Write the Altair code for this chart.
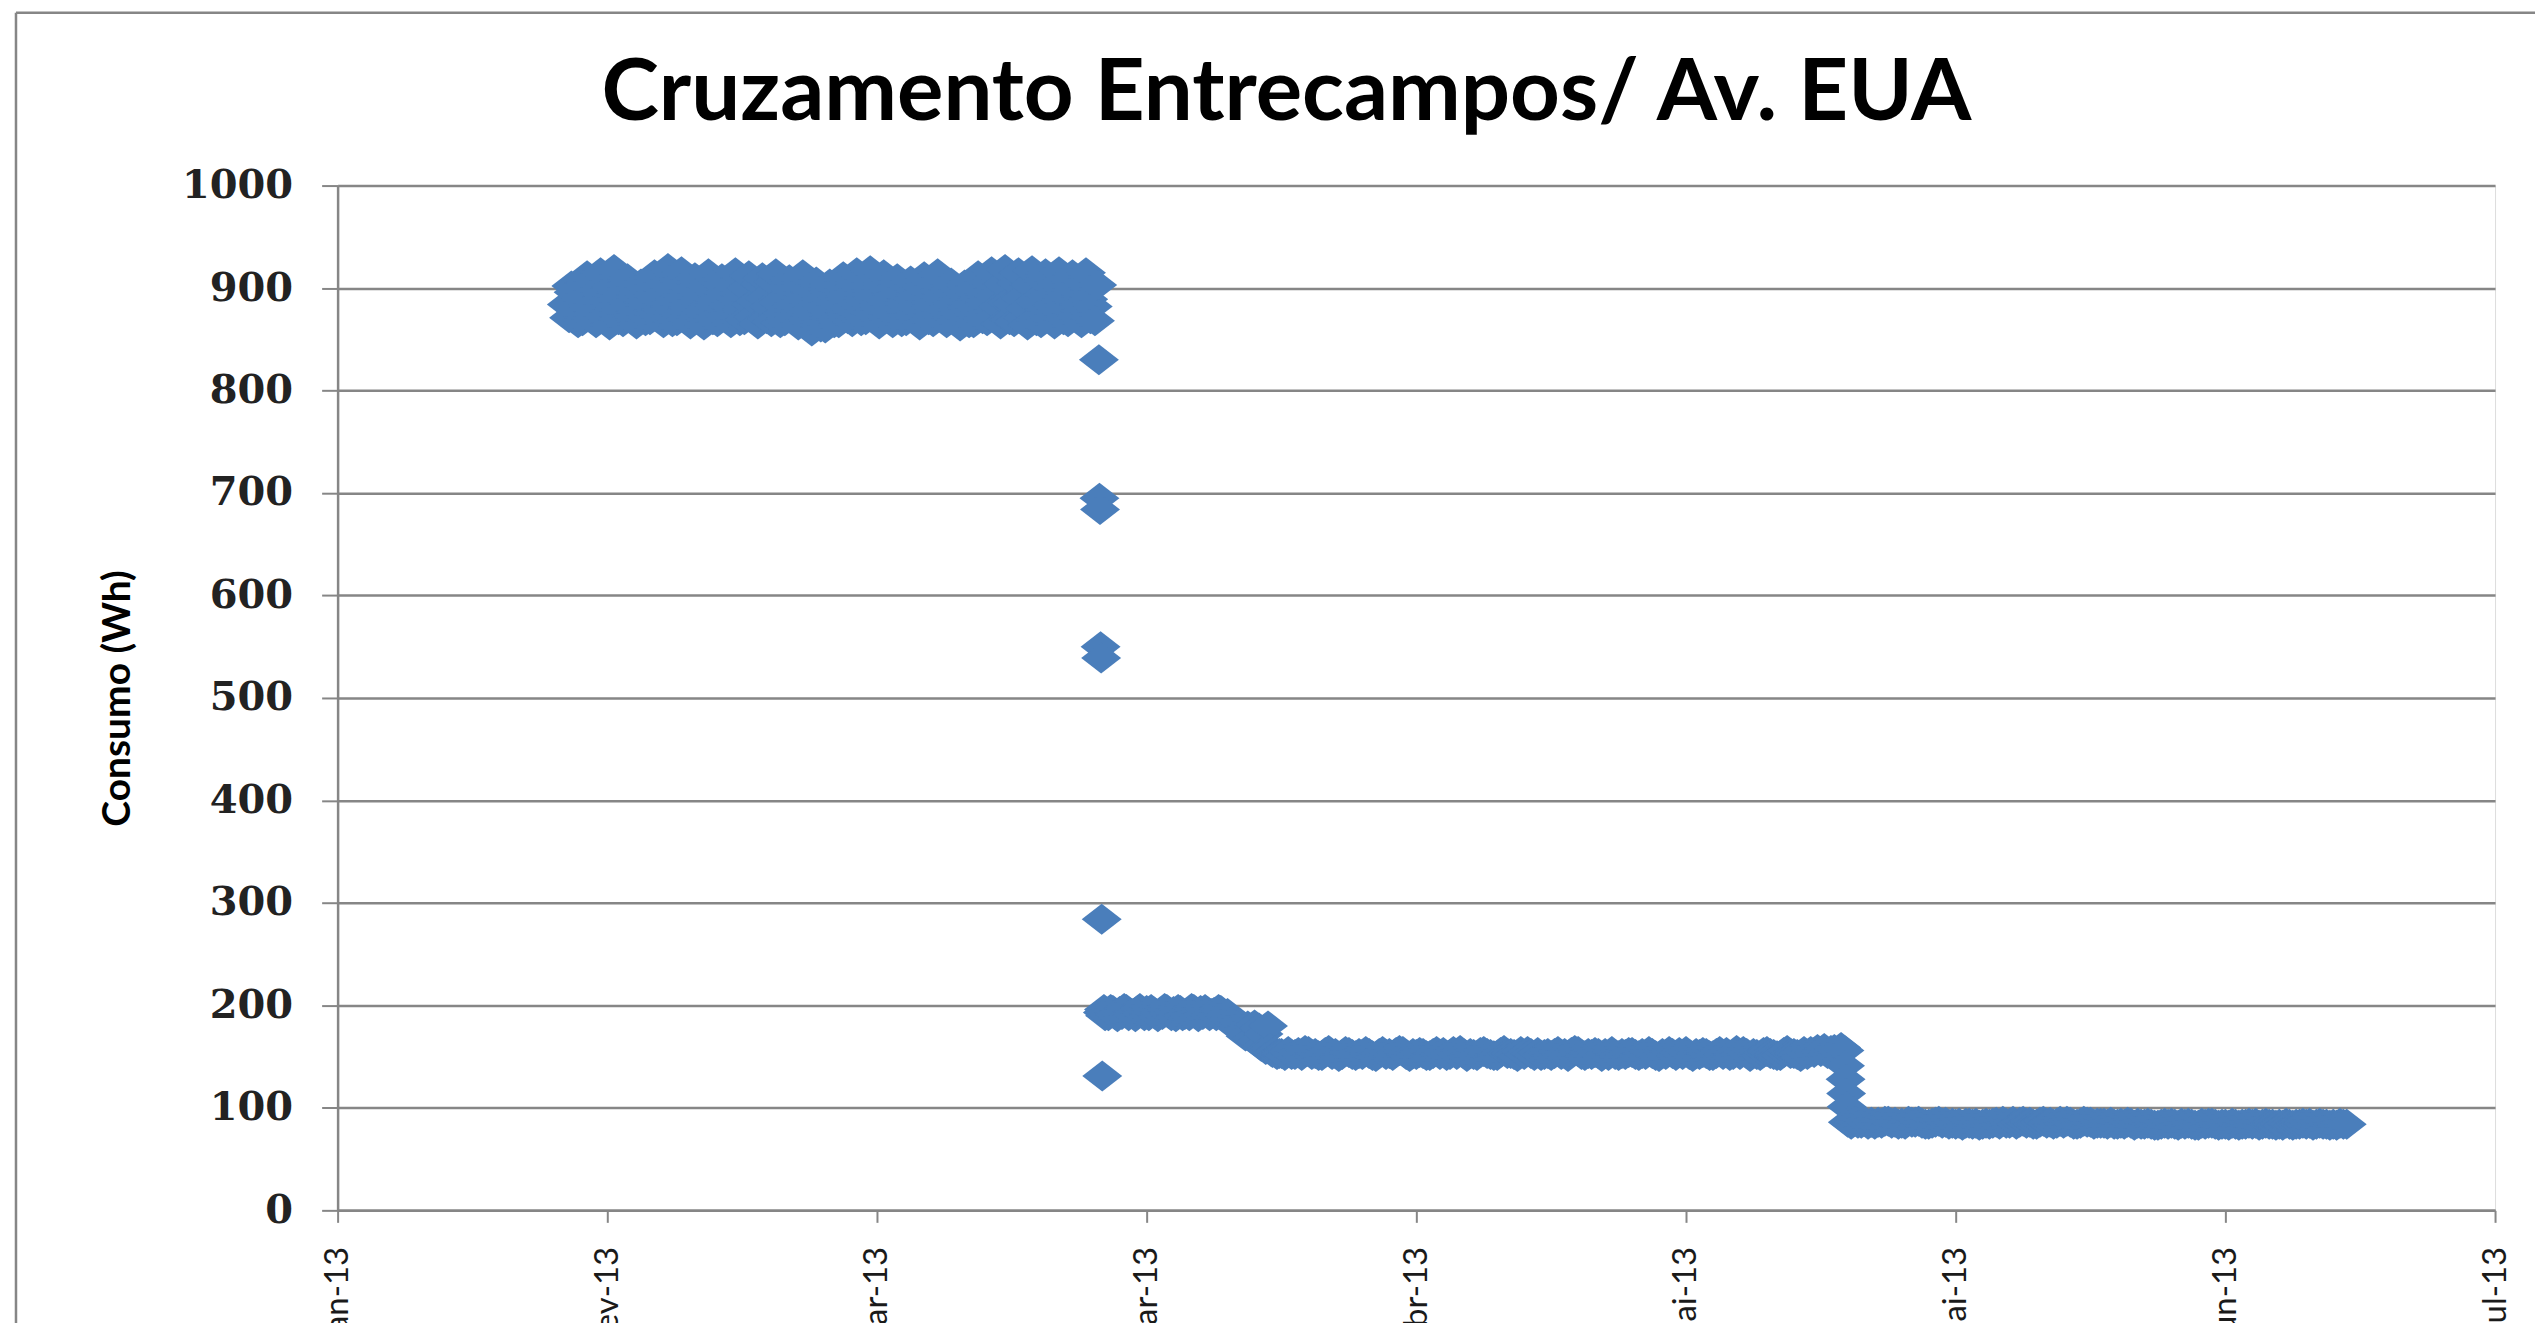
import json
from datetime import datetime, timedelta

import altair as alt
import pandas as pd

# ---------------- textos ----------------
TITULO = "Cruzamento Entrecampos/ Av. EUA"
TITULO_Y = "Consumo (Wh)"
MESES = ["Jan", "Fev", "Mar", "Abr", "Mai", "Jun", "Jul", "Ago", "Set", "Out", "Nov", "Dez"]

# ---------------- eixos ----------------
MARCAS_X = ["2013-01-25", "2013-02-14", "2013-03-06", "2013-03-26", "2013-04-15",
            "2013-05-05", "2013-05-25", "2013-06-14", "2013-07-04"]
MARCAS_Y = [0, 100, 200, 300, 400, 500, 600, 700, 800, 900, 1000]

# ---------------- leituras (Wh) ----------------
# Fase A: ~900 Wh, 6 leituras por dia a partir de 11 Fev
INICIO_A = "2013-02-11"
HORAS_A = [0, 4, 8, 12, 16, 20]
LEITURAS_A = [
    [884, 871, 902, 896, 878, 866],
    [890, 868, 905, 912, 881, 870],
    [876, 866, 898, 915, 893, 872],
    [887, 864, 901, 918, 889, 869],
    [880, 867, 903, 909, 884, 871],
    [872, 865, 897, 904, 886, 868],
    [885, 869, 906, 913, 890, 873],
    [879, 866, 904, 919, 882, 867],
    [888, 868, 907, 916, 891, 870],
    [881, 865, 899, 910, 887, 874],
    [877, 864, 902, 914, 885, 869],
    [886, 867, 905, 909, 892, 871],
    [883, 866, 903, 915, 888, 868],
    [879, 869, 900, 912, 884, 872],
    [887, 865, 904, 910, 890, 870],
    [882, 867, 906, 914, 886, 866],
    [875, 868, 901, 908, 883, 871],
    [884, 864, 905, 913, 889, 869],
    [878, 858, 897, 906, 885, 862],
    [881, 861, 899, 904, 887, 866],
    [886, 866, 903, 911, 890, 870],
    [880, 867, 905, 915, 884, 868],
    [888, 869, 902, 917, 891, 873],
    [883, 865, 904, 913, 887, 870],
    [877, 866, 900, 909, 882, 867],
    [885, 868, 903, 907, 889, 871],
    [881, 864, 901, 911, 886, 869],
    [886, 867, 905, 914, 891, 872],
    [879, 866, 898, 905, 884, 868],
    [876, 863, 896, 903, 881, 866],
    [884, 866, 902, 912, 888, 870],
    [887, 868, 906, 916, 892, 873],
    [882, 865, 904, 918, 886, 869],
    [885, 867, 905, 915, 890, 871],
    [880, 864, 903, 917, 887, 868],
    [886, 866, 907, 914, 891, 870],
    [883, 865, 904, 916, 888, 869],
    [881, 867, 902, 913, 885, 872],
    [884, 866, 905, 915, 889, 870],
    [882, 868, 903],
]

# Queda de 22 Mar
TRANSICAO_1_HORAS = ["2013-03-22T11:00", "2013-03-22T12:00", "2013-03-22T13:00",
                     "2013-03-22T14:00", "2013-03-22T15:00", "2013-03-22T16:00",
                     "2013-03-22T17:00", "2013-03-22T18:00", "2013-03-22T20:00",
                     "2013-03-22T22:00"]
TRANSICAO_1_VALORES = [830, 695, 684, 550, 539, 284, 131, 193, 196, 190]

# Fase B: ~195 Wh, 6 leituras por dia a partir de 23 Mar
INICIO_B = "2013-03-23"
HORAS_B = [0, 4, 8, 12, 16, 20]
LEITURAS_B = [
    [193, 190, 196, 195, 191, 189],
    [194, 191, 197, 196, 190, 192],
    [192, 189, 195, 197, 193, 190],
    [195, 190, 196, 194, 191, 189],
    [193, 191, 197, 196, 192, 190],
    [194, 189, 196, 195, 190, 191],
    [192, 190, 197, 196, 193, 189],
    [195, 191, 196, 194, 190, 192],
    [193, 190, 196, 195, 191, 189],
    [192, 188, 184, 181, 178, 182],
    [181, 176, 170, 180, 174, 168],
    [181, 165, 178, 160, 172, 157],
    [180, 158, 154, 155, 152, 153],
]

# Fase C: ~153 Wh, 4 leituras por dia a partir de 5 Abr
INICIO_C = "2013-04-05"
HORAS_C = [0, 6, 12, 18]
LEITURAS_C = [
    [153, 151, 155, 152], [152, 154, 151, 156], [155, 152, 153, 151],
    [151, 154, 156, 152], [153, 150, 152, 155], [154, 152, 151, 153],
    [152, 155, 153, 151], [150, 153, 155, 152], [153, 151, 154, 156],
    [155, 152, 150, 153], [152, 154, 153, 151], [151, 153, 155, 152],
    [154, 151, 152, 155], [152, 156, 153, 150], [153, 152, 151, 154],
    [155, 153, 152, 151], [151, 154, 156, 153], [153, 152, 150, 155],
    [152, 155, 153, 151], [154, 151, 152, 153], [151, 153, 155, 152],
    [153, 150, 154, 156], [155, 152, 151, 153], [152, 154, 153, 150],
    [153, 151, 155, 152], [151, 153, 152, 154], [154, 152, 151, 153],
    [152, 155, 153, 151], [150, 153, 152, 155], [153, 151, 154, 152],
    [155, 152, 150, 153], [152, 154, 153, 151], [151, 153, 155, 152],
    [154, 151, 152, 156], [152, 155, 153, 150], [153, 152, 151, 154],
    [155, 153, 152, 151], [151, 154, 156, 153], [153, 152, 150, 155],
    [152, 155, 154, 157], [155, 158, 153, 156], [157, 155, 159, 156],
]

# Queda de 16 Mai
TRANSICAO_2_HORAS = ["2013-05-16T19:00", "2013-05-16T20:00", "2013-05-16T21:00",
                     "2013-05-16T22:00"]
TRANSICAO_2_VALORES = [141, 128, 114, 101]

# Fase D: ~85 Wh, 4 leituras por dia a partir de 17 Mai
INICIO_D = "2013-05-17"
HORAS_D = [0, 6, 12, 18]
LEITURAS_D = [
    [86, 84, 87, 85], [85, 87, 84, 86], [84, 86, 85, 87], [87, 85, 86, 84],
    [85, 84, 87, 86], [86, 87, 85, 84], [84, 85, 86, 87], [85, 86, 84, 85],
    [84, 85, 83, 85], [85, 84, 85, 83], [84, 85, 84, 85], [86, 84, 87, 85],
    [85, 87, 84, 86], [87, 85, 86, 84], [84, 86, 87, 85], [86, 84, 85, 87],
    [85, 87, 86, 84], [84, 85, 87, 86], [86, 84, 85, 85], [85, 84, 86, 84],
    [84, 85, 84, 86], [85, 83, 85, 84], [84, 85, 84, 83], [83, 84, 85, 84],
    [85, 84, 83, 85], [84, 85, 84, 83], [83, 85, 84, 85], [85, 84, 83, 84],
    [84, 83, 85, 84], [83, 84, 84, 85], [84, 85, 83, 84], [85, 84, 84, 83],
    [84, 83, 85, 84], [83, 84, 84, 85], [84, 85, 83, 84], [85, 84, 84, 83],
    [84, 83, 85, 84], [84],
]


# ---------------- tabela ----------------
def iso(dt):
    return dt.strftime("%Y-%m-%dT%H:%M:%SZ")


linhas = []


def juntar_fase(inicio, horas, leituras):
    base = datetime.fromisoformat(inicio)
    for i, dia in enumerate(leituras):
        for h, v in zip(horas, dia):
            linhas.append({"data": iso(base + timedelta(days=i, hours=h)), "consumo": v})


def juntar_lista(horas, valores):
    for h, v in zip(horas, valores):
        linhas.append({"data": iso(datetime.fromisoformat(h)), "consumo": v})


juntar_fase(INICIO_A, HORAS_A, LEITURAS_A)
juntar_lista(TRANSICAO_1_HORAS, TRANSICAO_1_VALORES)
juntar_fase(INICIO_B, HORAS_B, LEITURAS_B)
juntar_fase(INICIO_C, HORAS_C, LEITURAS_C)
juntar_lista(TRANSICAO_2_HORAS, TRANSICAO_2_VALORES)
juntar_fase(INICIO_D, HORAS_D, LEITURAS_D)
df = pd.DataFrame(linhas)


def dt_utc(s):
    d = datetime.fromisoformat(s)
    return alt.DateTime(year=d.year, month=d.month, date=d.day, utc=True)


meses_js = "[" + ",".join("'" + m + "'" for m in MESES) + "]"
rotulo_x = meses_js + "[utcmonth(datum.value)] + '-' + utcFormat(datum.value, '%y')"

CINZA = "#868686"
AZUL = "#4A7EBB"
LOSANGO = "M-1,0L0,-0.775L1,0L0,0.775Z"

pontos = alt.Chart(df).mark_point(
    shape=LOSANGO, size=1600, filled=True, opacity=1, color=AZUL, strokeWidth=0
).encode(
    x=alt.X(
        "data:T",
        scale=alt.Scale(type="utc", domain=[dt_utc(MARCAS_X[0]), dt_utc(MARCAS_X[-1])]),
        axis=alt.Axis(
            values=[dt_utc(s) for s in MARCAS_X],
            labelExpr=rotulo_x,
            title="",
            grid=False,
            domainColor=CINZA, domainWidth=2.5,
            ticks=True, tickColor=CINZA, tickWidth=2, tickSize=12,
            labelAngle=270, labelFont="Lato", labelFontSize=33,
            labelColor="#1a1a1a", labelPadding=24, labelOverlap=False,
            labelFlush=False,
        ),
    ),
    y=alt.Y(
        "consumo:Q",
        scale=alt.Scale(domain=[0, 1000], nice=False, zero=True),
        axis=alt.Axis(
            values=MARCAS_Y, format="d",
            title=TITULO_Y, titleFont="Lato", titleFontSize=39, titleFontWeight="bold",
            titleColor="#000000", titlePadding=44,
            grid=True, gridColor=CINZA, gridWidth=2.5,
            domainColor=CINZA, domainWidth=2.5,
            ticks=True, tickColor=CINZA, tickWidth=2, tickSize=16,
            labelFont="DejaVu Serif", labelFontWeight="bold", labelFontSize=40,
            labelColor="#222222", labelPadding=29, labelFlush=False,
        ),
    ),
)

# moldura da área do gráfico (apenas os lados visíveis: topo e esquerda)
moldura = alt.Chart(pd.DataFrame({"m": [0]})).mark_rule(
    stroke=CINZA, strokeWidth=2.5
).encode(
    x=alt.value(-322),
    x2=alt.value(2400),
    y=alt.value(-173),
)
moldura_esq = alt.Chart(pd.DataFrame({"m": [0]})).mark_rule(
    stroke=CINZA, strokeWidth=2.5
).encode(
    x=alt.value(-322),
    y=alt.value(-173),
    y2=alt.value(1300),
)

chart = alt.layer(moldura, moldura_esq, pontos).properties(
    width=2160,
    height=1026,
    title=alt.TitleParams(
        text=TITULO, font="Lato", fontSize=87, fontWeight="bold", color="#000000",
        anchor="middle", frame="group", dx=-130, offset=0, dy=127,
    ),
    autosize=alt.AutoSizeParams(type="none"),
    padding={"left": 330, "top": 177, "right": 40, "bottom": 112},
).configure_view(strokeWidth=0).configure(background="#ffffff")

chart.save("out.html", embed_options={"renderer": "svg", "actions": False})
